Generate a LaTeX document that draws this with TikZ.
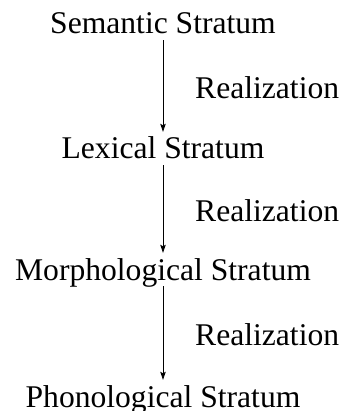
\documentclass[tikz,border=0pt]{standalone}
\usepackage{fontspec}
\setmainfont{Liberation Serif}
\usetikzlibrary{arrows.meta}
\begin{document}
\begin{tikzpicture}[x=1pt,y=1pt,
  stratum/.style={inner xsep=0pt, inner ysep=3pt, text height=24pt, text depth=3pt, anchor=base, font=\fontsize{31.6}{38}\selectfont},
  rel/.style={inner sep=0pt, anchor=base west, font=\fontsize{31.6}{38}\selectfont},
  realize/.style={-{Stealth[length=8pt,width=5.5pt,inset=1.5pt]}, line width=0.8pt}]
\useasboundingbox (0,0) rectangle (342,-411);
\node[stratum] (sem) at (163,-34) {Semantic Stratum};
\node[stratum] (lex) at (163,-159) {Lexical Stratum};
\node[stratum] (mor) at (163,-280) {Morphological Stratum};
\node[stratum] (pho) at (163,-407) {Phonological Stratum};
\node[rel] (r1) at (195,-99) {Realization};
\node[rel] (r2) at (195,-221) {Realization};
\node[rel] (r3) at (195,-345) {Realization};
\draw[realize] (sem.south) -- (lex.north);
\draw[realize] (lex.south) -- (mor.north);
\draw[realize] (mor.south) -- (pho.north);
\end{tikzpicture}
\end{document}
